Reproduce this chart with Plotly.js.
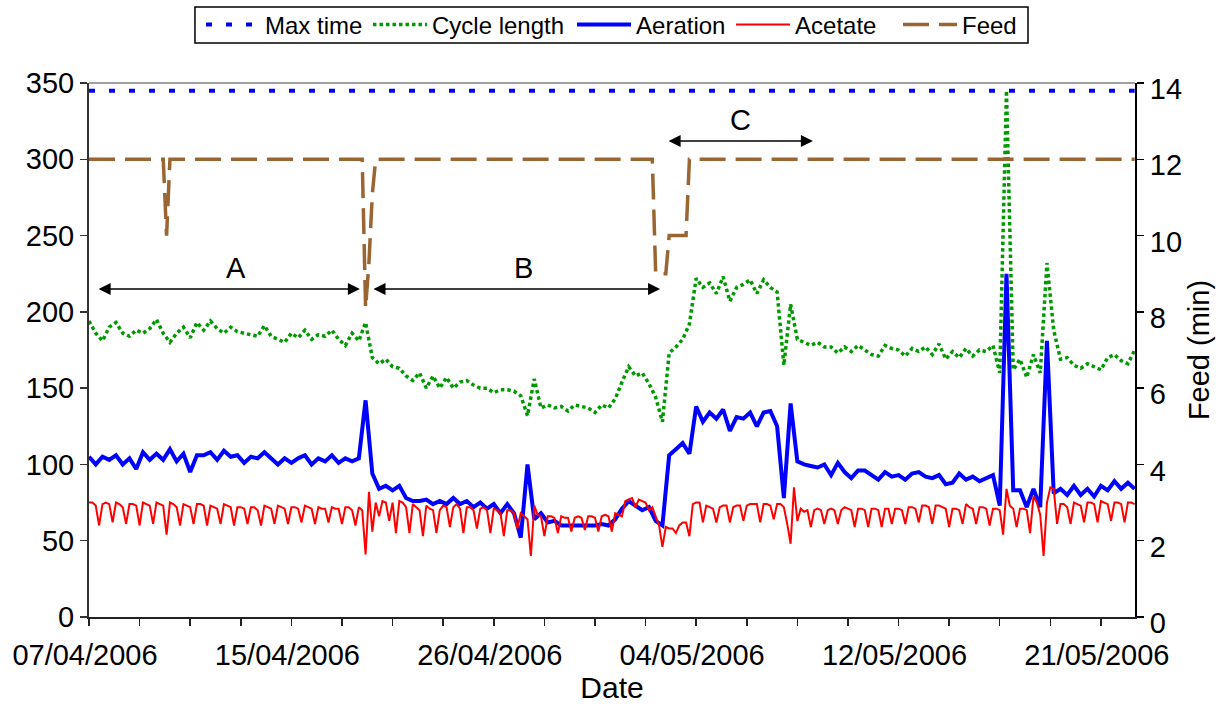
<!DOCTYPE html>
<html><head><meta charset="utf-8">
<script src="https://cdn.plot.ly/plotly-3.0.1.min.js"></script>
<style>html,body{margin:0;padding:0;background:#fff}#chart{width:1224px;height:704px}</style>
</head><body><div id="chart"></div>
<script>
// ---- data (x = sample number along the record) ----
const dateLabels = ["07/04/2006","15/04/2006","26/04/2006","04/05/2006","12/05/2006","21/05/2006"];
const samplesPerTick = 15;       // category ticks every 15 samples
const coarseStep = 2;            // aeration & cycle length logged every 2 samples

const maxTime = [345, 345];      // constant limit (start and end of record)

const cycleLength = [
 194,186,181,190,193,186,184,188,186,189,
 195,186,180,186,190,183,193,188,194,189,
 186,190,187,186,185,184,191,184,182,180,
 186,183,188,182,185,184,188,182,178,186,
 181,193,170,166,169,164,163,158,155,160,
 150,158,150,157,150,154,155,152,150,150,
 147,149,149,148,145,132,156,137,139,137,
 138,135,139,138,137,134,139,137,143,154,
 164,158,160,153,144,128,173,177,182,192,
 222,216,219,212,223,207,216,218,221,212,
 221,216,213,165,205,182,180,178,180,177,
 177,173,177,174,178,175,172,171,178,176,
 175,171,176,174,177,172,179,169,174,170,
 176,171,175,174,178,160,345,162,169,157,
 172,160,232,188,169,170,165,163,166,164,
 162,170,172,168,166,175];

const aeration = [
 105,100,105,103,106,100,104,97,108,103,
 107,103,110,102,107,95,106,106,108,103,
 109,105,106,101,105,104,108,104,100,104,
 101,104,106,100,104,102,106,101,104,102,
 104,142,94,84,86,83,86,78,76,76,
 77,74,76,74,78,74,76,72,75,71,
 74,68,74,68,52,100,64,68,62,63,
 60,60,60,60,60,60,61,60,64,71,
 76,73,70,72,63,60,106,110,114,107,
 138,128,134,130,136,122,131,130,134,125,
 134,135,125,78,140,102,100,99,98,100,
 93,101,95,91,96,96,93,90,95,92,
 93,90,94,95,92,91,93,87,88,94,
 90,92,89,91,93,73,225,83,83,72,
 84,72,181,81,84,80,86,80,84,79,
 86,83,89,84,88,84];

const acetate = [
 75,75,73,60, 74,75,74,62, 75,74,72,61, 74,74,73,60, 75,74,73,61,
 75,74,73,54, 75,74,72,60, 74,73,72,61, 74,74,73,60, 73,72,71,61,
 74,73,72,60, 72,72,71,61, 72,72,70,60, 73,72,71,61, 73,72,71,61,
 72,72,71,62, 73,72,71,61, 72,71,71,62, 72,71,71,61, 72,72,70,60,
 72,70,41,82, 56,75,66,76, 75,63,75,55, 76,75,72,55, 74,72,70,53,
 73,71,70,55, 70,73,72,59, 72,74,71,55, 72,72,70,58, 71,72,70,55,
 71,70,68,53, 70,70,68,58, 68,66,64,40, 73,67,66,53, 66,66,65,55,
 66,65,65,56, 65,66,65,57, 66,66,65,56, 66,67,66,56, 68,67,66,76,
 77,78,72,77, 76,75,70,72, 66,60,46,59, 58,58,55,60, 62,62,53,74,
 75,75,62,73, 72,71,62,72, 73,73,62,72, 73,73,63,73, 74,74,74,62,
 74,74,73,64, 74,74,72,61, 48,85,63,71, 69,70,59,70, 71,70,61,70,
 71,70,61,70, 72,71,70,59, 71,71,70,59, 71,71,70,59, 71,71,61,71,
 71,70,61,72, 72,71,62,73, 73,72,61,73, 73,72,71,59, 71,71,70,61,
 74,72,71,61, 72,72,71,60, 71,71,70,54, 84,73,71,59, 71,71,70,55,
 79,75,67,40, 75,85,84,61, 74,74,72,61, 75,74,73,62, 75,75,74,62,
 76,75,74,63, 75,75,74,62, 75,75,74];

const feed = [
 12,12,12,12,12,12,12,12,12,12,12,12,12,12,12,12,12,12,12,12,
 12,12,12,10,12,12,12,12,12,12,12,12,12,12,12,12,12,12,12,12,
 12,12,12,12,12,12,12,12,12,12,12,12,12,12,12,12,12,12,12,12,
 12,12,12,12,12,12,12,12,12,12,12,12,12,12,12,12,12,12,12,12,
 12,12,8.1,9.3,11.1,12,12,12,12,12,12,12,12,12,12,12,12,12,12,12,
 12,12,12,12,12,12,12,12,12,12,12,12,12,12,12,12,12,12,12,12,
 12,12,12,12,12,12,12,12,12,12,12,12,12,12,12,12,12,12,12,12,
 12,12,12,12,12,12,12,12,12,12,12,12,12,12,12,12,12,12,12,12,
 12,12,12,12,12,12,12,12,9,9,9,9,10,10,10,10,10,10,12,12,
 12,12,12,12,12,12,12,12,12,12,12,12,12,12,12,12,12,12,12,12,
 12,12,12,12,12,12,12,12,12,12,12,12,12,12,12,12,12,12,12,12,
 12,12,12,12,12,12,12,12,12,12,12,12,12,12,12,12,12,12,12,12,
 12,12,12,12,12,12,12,12,12,12,12,12,12,12,12,12,12,12,12,12,
 12,12,12,12,12,12,12,12,12,12,12,12,12,12,12,12,12,12,12,12,
 12,12,12,12,12,12,12,12,12,12,12,12,12,12,12,12,12,12,12,12,
 12,12,12,12,12,12,12,12,12,12,12];

// ---- build ----
const fineX = acetate.map((_, i) => i);
const coarseX = aeration.map((_, i) => i * coarseStep);
const lastSample = acetate.length - 1;
const FONT = 'Liberation Sans, Arial, Helvetica, sans-serif';

const traces = [
 {name:'Max time', x:[0, lastSample], y:maxTime, mode:'lines', legend:'legend',
  line:{color:'#0000FF', width:4, dash:'6px,14px'}},
 {name:'Cycle length', x:coarseX, y:cycleLength, mode:'lines', legend:'legend2',
  line:{color:'#009900', width:3.5, dash:'3.5px,3px'}},
 {name:'Aeration', x:coarseX, y:aeration, mode:'lines', legend:'legend3',
  line:{color:'#0000FF', width:4}},
 {name:'Acetate', x:fineX, y:acetate, mode:'lines', legend:'legend4',
  line:{color:'#FF0000', width:2}},
 {name:'Feed', x:fineX, y:feed, mode:'lines', yaxis:'y2', legend:'legend5',
  line:{color:'#996633', width:3.5, dash:'26px,10px'}}
];

const tickvals = [], ticktext = [];
for (let k = 0; k * samplesPerTick <= lastSample; k++) {
  tickvals.push(k * samplesPerTick);
  ticktext.push(k % 4 === 0 ? (dateLabels[k / 4] || '') : '');
}

function leg(x) {
  return {x:x, y:1.1086, xanchor:'left', yanchor:'middle', orientation:'h',
          font:{family:FONT, size:24, color:'#000'}, itemwidth:54,
          bgcolor:'rgba(0,0,0,0)', borderwidth:0};
}

function arrow(x0, x1, y) {
  return {x:x1, y:y, ax:x0, ay:y, xref:'x', yref:'y', axref:'x', ayref:'y',
          text:'', showarrow:true, arrowhead:2, startarrowhead:2, arrowside:'end+start',
          arrowsize:1.5, startarrowsize:1.5, arrowwidth:1.6, arrowcolor:'#000',
          standoff:0, startstandoff:0};
}
function label(t, x, y) {
  return {x:x, y:y, xref:'x', yref:'y', text:t, showarrow:false,
          font:{family:FONT, size:29, color:'#000'}};
}

const layout = {
  width:1224, height:704,
  margin:{l:89, r:89, t:83, b:87, autoexpand:false},
  paper_bgcolor:'#fff', plot_bgcolor:'#fff',
  font:{family:FONT, color:'#000'},
  showlegend:true,
  legend:leg(0.1071), legend2:leg(0.2667), legend3:leg(0.4618), legend4:leg(0.6138), legend5:leg(0.7734),
  xaxis:{range:[0, 310.1], tickmode:'array', tickvals:tickvals, ticktext:ticktext,
         showline:true, linecolor:'#222', linewidth:2, ticks:'outside', ticklen:7, tickwidth:1.5, tickcolor:'#222',
         showgrid:false, zeroline:false, tickfont:{family:FONT, size:29}, ticklabelstandoff:4, ticklabelshift:-4,
         title:{text:'Date', font:{family:FONT, size:30}, standoff:8}},
  yaxis:{range:[0, 350], dtick:50, tick0:0, showline:true, linecolor:'#333', linewidth:2,
         ticks:'outside', ticklen:7, tickwidth:1.5, tickcolor:'#333',
         showgrid:false, zeroline:false, tickfont:{family:FONT, size:29}},
  yaxis2:{range:[0, 14], dtick:2, tick0:0, overlaying:'y', side:'right', showline:true,
          linecolor:'#000', linewidth:2, ticks:'outside', ticklen:7, tickwidth:1.5, tickcolor:'#000',
          showgrid:false, zeroline:false, tickfont:{family:FONT, size:29}, ticklabelshift:6,
          title:{text:'Feed (min)', font:{family:FONT, size:29}, standoff:8}},
  shapes:[
    {type:'line', xref:'paper', yref:'paper', x0:0, x1:1, y0:1, y1:1, line:{color:'#A0A0A0', width:2}},
    {type:'rect', xref:'paper', yref:'paper', x0:0.1013, x1:0.8977, y0:1.0749, y1:1.1423,
     line:{color:'#000', width:1.5}, fillcolor:'rgba(0,0,0,0)'}
  ],
  annotations:[
    arrow(2.4, 80.3, 215), label('A', 43.6, 228.7),
    arrow(83.9, 169.3, 215), label('B', 128.7, 228.7),
    arrow(171.4, 214.6, 312), label('C', 193, 325.7)
  ]
};

Plotly.newPlot('chart', traces, layout, {displayModeBar:false, staticPlot:true});
</script>
</body></html>
